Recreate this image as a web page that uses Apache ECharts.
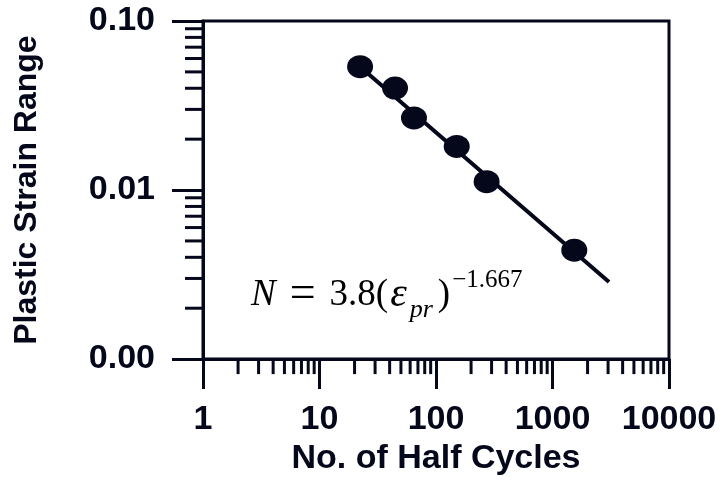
<!DOCTYPE html>
<html>
<head>
<meta charset="utf-8">
<script src="https://cdn.jsdelivr.net/npm/echarts@6/dist/echarts.min.js"></script>
<style>
  html, body { margin: 0; padding: 0; background: #fff; }
  #chart { width: 723px; height: 481px; }
</style>
</head>
<body>
<div id="chart"></div>
<script>
const halfCycles = [22.3, 44.5, 64.7, 150.6, 272, 1538];
const strainRange = [0.0537, 0.0401, 0.0267, 0.0181, 0.0112, 0.00441];

// fitted power line, end points
const fitX = [22.3, 3055];
const fitY = [0.0537, 0.00286];

// axis ranges
const X_MIN = 1, X_MAX = 10000;
const Y_MIN = 0.001, Y_MAX = 0.1;

// minor tick positions
const xMinorTicks = [2, 3, 4, 5, 6, 7, 8, 9,
  20, 30, 40, 50, 60, 70, 80, 90,
  200, 300, 400, 500, 600, 700, 800, 900,
  2000, 3000, 4000, 5000, 6000, 7000, 8000, 9000];
const yMinorTicks = [0.002, 0.003, 0.004, 0.005, 0.006, 0.007, 0.008, 0.009,
  0.02, 0.03, 0.04, 0.05, 0.06, 0.07, 0.08, 0.09];

const INK = '#05071a';
const labelFont = { fontFamily: 'Liberation Sans', fontWeight: 'bold', fontSize: 34, color: INK };
const serif = 'Liberation Serif';

const chart = echarts.init(document.getElementById('chart'));

function tickItem(len, vertical) {
  return function (params, api) {
    const p = api.coord([api.value(0), api.value(1)]);
    return {
      type: 'line',
      shape: vertical
        ? { x1: p[0], y1: p[1], x2: p[0], y2: p[1] + len }
        : { x1: p[0], y1: p[1], x2: p[0] - len, y2: p[1] },
      style: { stroke: INK, lineWidth: 3 },
      silent: true
    };
  };
}

const option = {
  animation: false,
  grid: {
    left: 203, right: 54, top: 21, bottom: 121,
    show: true, borderColor: INK, borderWidth: 3
  },
  xAxis: {
    type: 'log',
    logBase: 10,
    min: X_MIN,
    max: X_MAX,
    name: 'No. of Half Cycles',
    nameLocation: 'middle',
    nameGap: 80,
    nameTextStyle: labelFont,
    axisLine: { lineStyle: { color: INK, width: 3 } },
    axisTick: { length: 30, lineStyle: { color: INK, width: 3 } },
    axisLabel: Object.assign({ margin: 44, formatter: v => String(v) }, labelFont),
    splitLine: { show: false },
    minorTick: { show: false }
  },
  yAxis: {
    type: 'log',
    logBase: 10,
    min: Y_MIN,
    max: Y_MAX,
    name: 'Plastic Strain Range',
    nameLocation: 'middle',
    nameGap: 160,
    nameTextStyle: Object.assign({}, labelFont, { fontSize: 32 }),
    axisLine: { lineStyle: { color: INK, width: 3 } },
    axisTick: { length: 31, lineStyle: { color: INK, width: 3 } },
    axisLabel: Object.assign({ margin: 48, formatter: v => v.toFixed(2) }, labelFont),
    splitLine: { show: false },
    minorTick: { show: false }
  },
  graphic: [{
    type: 'text',
    left: 251,
    top: 267,
    style: {
      text: '{i|N}{op|=}{n|3.8(}{e|ε}{sub|pr}{n|)}{sup|−1.667}',
      rich: {
        i: { fontFamily: serif, fontStyle: 'italic', fontSize: 37, lineHeight: 60, verticalAlign: 'middle', color: INK },
        op: { fontFamily: serif, fontSize: 46, lineHeight: 60, verticalAlign: 'middle', padding: [0, 14, 0, 14], color: INK },
        n: { fontFamily: serif, fontSize: 37, lineHeight: 60, verticalAlign: 'middle', color: INK },
        e: { fontFamily: serif, fontStyle: 'italic', fontSize: 42, lineHeight: 60, verticalAlign: 'middle', padding: [0, 2, 0, 2], color: INK },
        sub: { fontFamily: serif, fontStyle: 'italic', fontSize: 26, lineHeight: 60, verticalAlign: 'middle', padding: [30, 5, 0, 1], color: INK },
        sup: { fontFamily: serif, fontSize: 25, lineHeight: 60, verticalAlign: 'middle', padding: [0, 0, 30, 2], color: INK }
      }
    }
  }],
  series: [
    {
      type: 'custom',
      silent: true,
      renderItem: tickItem(15, true),
      data: xMinorTicks.map(v => [v, Y_MIN])
    },
    {
      type: 'custom',
      silent: true,
      renderItem: tickItem(18, false),
      data: yMinorTicks.map(v => [X_MIN, v])
    },
    {
      type: 'line',
      showSymbol: false,
      silent: true,
      lineStyle: { color: INK, width: 4 },
      data: fitX.map((x, i) => [x, fitY[i]])
    },
    {
      type: 'scatter',
      symbol: 'circle',
      symbolSize: [26, 23],
      itemStyle: { color: INK, opacity: 1 },
      data: halfCycles.map((x, i) => [x, strainRange[i]])
    }
  ]
};

chart.setOption(option);
</script>
</body>
</html>
